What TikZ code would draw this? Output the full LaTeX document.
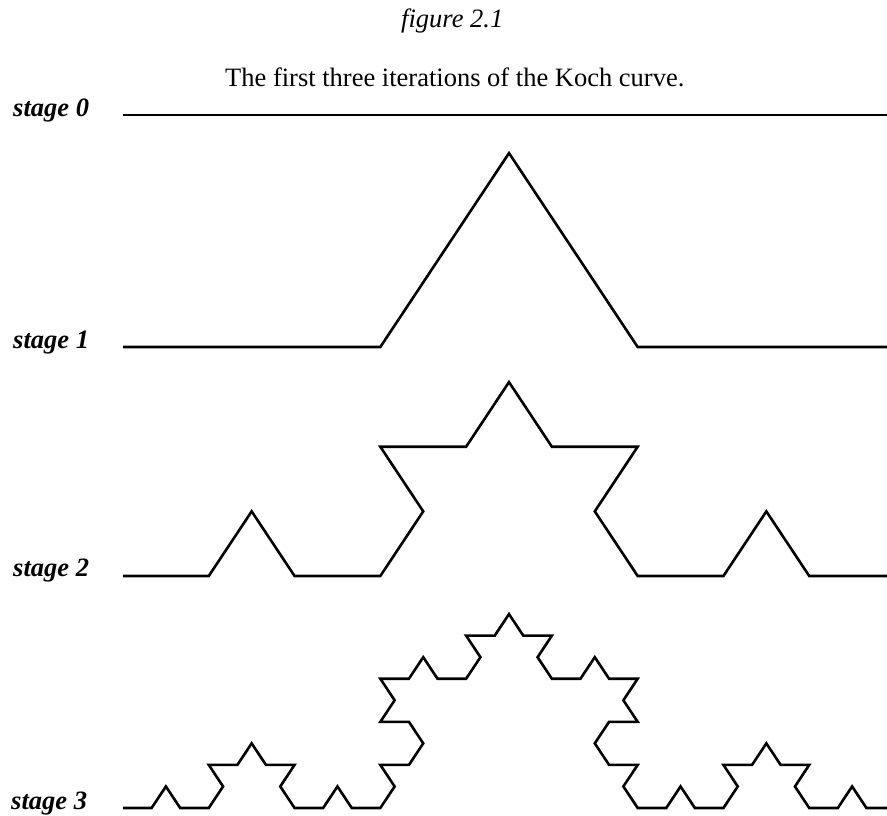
\documentclass[tikz,border=0pt]{standalone}
\usepackage{fontspec}
\setmainfont{Liberation Serif}
\newcommand\KochStage[3]{% #1 = last segment index, #2 = segment length, #3 = baseline height
  \begin{scope}[shift={(123,#3)}, yscale=0.87]
    \draw[koch] (0,0)
      \foreach \k [evaluate=\k as \a using
        {60*((mod(\k,4)==1)-(mod(\k,4)==2)
            +(mod(floor(\k/4),4)==1)-(mod(floor(\k/4),4)==2)
            +(mod(floor(\k/16),4)==1)-(mod(floor(\k/16),4)==2))}]
      in {0,...,#1} { -- ++(\a:#2) };
  \end{scope}}
\begin{document}
\begin{tikzpicture}[x=1pt,y=1pt,
  koch/.style={line width=2.6pt, line join=miter},
  txt/.style={anchor=base west, inner sep=0pt, font=\fontsize{26.5}{30}\selectfont},
  ital/.style={txt, font=\fontsize{26.5}{30}\selectfont\itshape},
  lbl/.style={txt, font=\fontsize{26.5}{30}\selectfont\bfseries\itshape}]
\useasboundingbox (0,0) rectangle (887,815);
\clip (0,0) rectangle (887,815);

% headings
\node[ital] (fig) at (401,787) {figure 2.1};
\node[txt] (caption) at (225,728) {The first three iterations of the Koch curve.};

% stage labels
\node[lbl] (s0) at (13,698) {stage 0};
\node[lbl] (s1) at (13,466) {stage 1};
\node[lbl] (s2) at (13,238) {stage 2};
\node[lbl] (s3) at (11,6) {stage 3};

% Koch curves, orders 0 to 3
\KochStage{0}{772}{700}
\KochStage{3}{257.333}{468}
\KochStage{15}{85.778}{239}
\KochStage{63}{28.593}{7}
\end{tikzpicture}
\end{document}
